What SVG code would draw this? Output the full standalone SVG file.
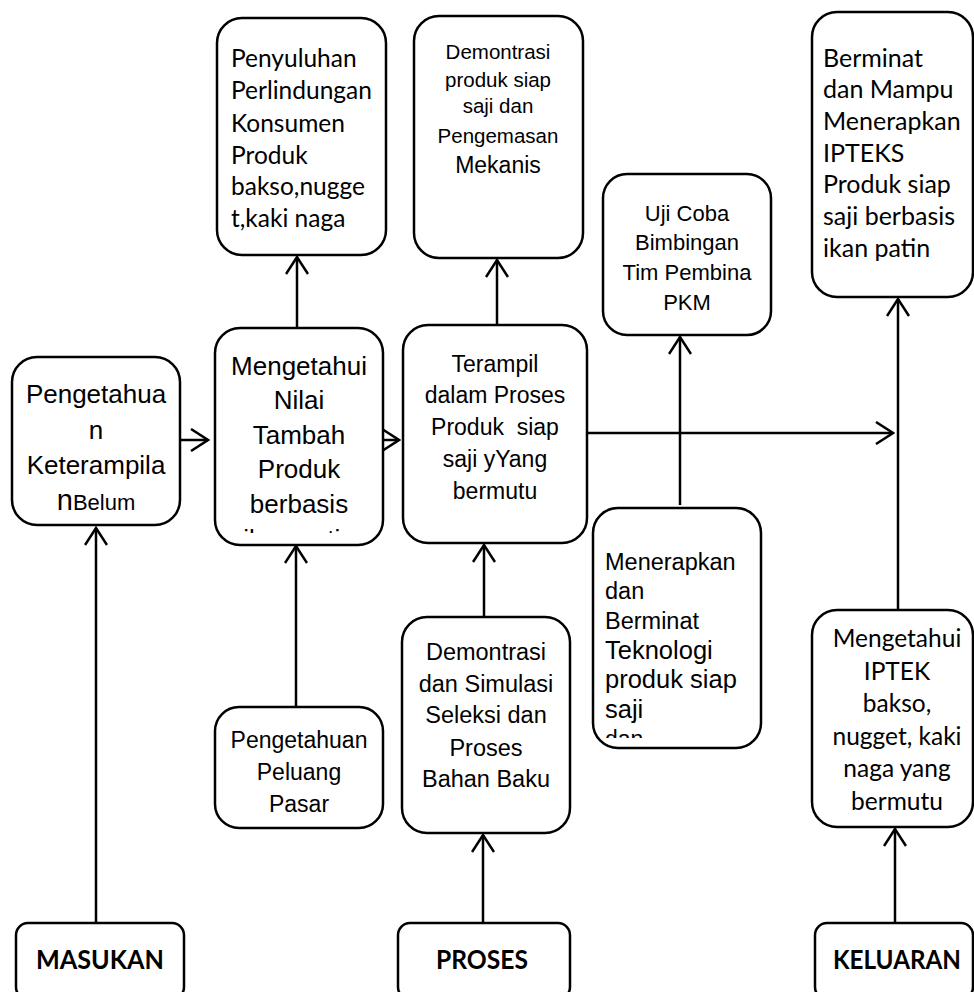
<svg xmlns="http://www.w3.org/2000/svg" width="974" height="992" viewBox="0 0 974 992">
<style>
.box{fill:#fff;stroke:#000;stroke-width:2.5}
.ar{font-family:"Liberation Sans",Arial,sans-serif;fill:#000}
.la{font-family:Lato,"Liberation Sans",sans-serif;fill:#000}
.c{text-anchor:middle}
.bl{font-family:Lato,"Liberation Sans",sans-serif;font-weight:bold;font-size:27px;text-anchor:middle;fill:#000}
.cn{fill:none;stroke:#000;stroke-width:2.5}
</style>
<defs>
<marker id="ah" viewBox="0 0 20 24" refX="18" refY="12" markerWidth="20" markerHeight="24" orient="auto" markerUnits="userSpaceOnUse">
<path d="M1,1 L18,12 L1,23" fill="none" stroke="#000" stroke-width="2.5"/>
</marker>
<clipPath id="clipMN"><rect x="215" y="328" width="168" height="205"/></clipPath>
<clipPath id="clipMT"><rect x="593" y="508" width="168" height="230"/></clipPath>
</defs>

<g id="connectors">
<path class="cn" d="M96,923 V528" marker-end="url(#ah)"/>
<path class="cn" d="M483,923 V835" marker-end="url(#ah)"/>
<path class="cn" d="M895,923 V829" marker-end="url(#ah)"/>
<path class="cn" d="M296,707 V546" marker-end="url(#ah)"/>
<path class="cn" d="M484,617 V545" marker-end="url(#ah)"/>
<path class="cn" d="M680,505 V337" marker-end="url(#ah)"/>
<path class="cn" d="M898,610 V299" marker-end="url(#ah)"/>
<path class="cn" d="M297,328 V257" marker-end="url(#ah)"/>
<path class="cn" d="M497,325 V260" marker-end="url(#ah)"/>
<path class="cn" d="M180,440 H208" marker-end="url(#ah)"/>
<path class="cn" d="M383,440 H399" marker-end="url(#ah)"/>
<path class="cn" d="M587,433 H893" marker-end="url(#ah)"/>
</g>

<g id="penyuluhan">
<rect class="box" x="217" y="18" width="169" height="237" rx="25"/>
<text class="la" font-size="24.5" x="231"><tspan x="231" y="67">Penyuluhan</tspan><tspan x="231" y="99">Perlindungan</tspan><tspan x="231" y="132">Konsumen</tspan><tspan x="231" y="164">Produk</tspan><tspan x="231" y="195">bakso,nugge</tspan><tspan x="231" y="227">t,kaki naga</tspan></text>
</g>

<g id="demontrasi-produk">
<rect class="box" x="414" y="16" width="169" height="242" rx="25"/>
<text class="ar c" font-size="20.5"><tspan x="498" y="59">Demontrasi</tspan><tspan x="498" y="87">produk siap</tspan><tspan x="498" y="113">saji dan</tspan><tspan x="498" y="143">Pengemasan</tspan></text>
<text class="ar c" font-size="23" x="498" y="173">Mekanis</text>
</g>

<g id="uji-coba">
<rect class="box" x="603" y="174" width="168" height="161" rx="24"/>
<text class="ar c" font-size="22"><tspan x="687" y="221">Uji Coba</tspan><tspan x="687" y="250">Bimbingan</tspan><tspan x="687" y="280">Tim Pembina</tspan><tspan x="687" y="310">PKM</tspan></text>
</g>

<g id="berminat">
<rect class="box" x="812" y="12" width="161" height="285" rx="25"/>
<text class="la" font-size="25"><tspan x="823" y="67">Berminat</tspan><tspan x="823" y="98">dan Mampu</tspan><tspan x="823" y="130">Menerapkan</tspan><tspan x="823" y="162">IPTEKS</tspan><tspan x="823" y="193">Produk siap</tspan><tspan x="823" y="225">saji berbasis</tspan><tspan x="823" y="257">ikan patin</tspan></text>
</g>

<g id="pengetahuan">
<rect class="box" x="12" y="357" width="168" height="168" rx="25"/>
<text class="ar c" font-size="26"><tspan x="96" y="403">Pengetahua</tspan><tspan x="96" y="439">n</tspan><tspan x="96" y="474">Keterampila</tspan></text>
<text class="ar c" y="510" x="96"><tspan font-size="29">n</tspan><tspan font-size="22">Belum</tspan></text>
</g>

<g id="mengetahui-nilai">
<rect class="box" x="215" y="328" width="168" height="217" rx="25"/>
<text class="ar c" font-size="26" clip-path="url(#clipMN)"><tspan x="299" y="375">Mengetahui</tspan><tspan x="299" y="409">Nilai</tspan><tspan x="299" y="444">Tambah</tspan><tspan x="299" y="478">Produk</tspan><tspan x="299" y="513">berbasis</tspan><tspan x="299" y="548">ikan patin</tspan></text>
</g>

<g id="terampil">
<rect class="box" x="403" y="325" width="184" height="218" rx="25"/>
<text class="ar c" font-size="23"><tspan x="495" y="372">Terampil</tspan><tspan x="495" y="403">dalam Proses</tspan><tspan x="495" y="435" xml:space="preserve">Produk  siap</tspan><tspan x="495" y="467">saji yYang</tspan><tspan x="495" y="499">bermutu</tspan></text>
</g>

<g id="menerapkan">
<rect class="box" x="593" y="508" width="168" height="240" rx="25"/>
<g clip-path="url(#clipMT)">
<text class="ar" font-size="23.5"><tspan x="605" y="570">Menerapkan</tspan><tspan x="605" y="599">dan</tspan><tspan x="605" y="629">Berminat</tspan></text>
<text class="ar" font-size="25.5"><tspan x="605" y="659">Teknologi</tspan><tspan x="605" y="688">produk siap</tspan><tspan x="605" y="718">saji</tspan></text>
<text class="ar" font-size="23" x="605" y="747">dan</text>
</g>
</g>

<g id="mengetahui-iptek">
<rect class="box" x="812" y="610" width="161" height="217" rx="25"/>
<text class="la c" font-size="24.5"><tspan x="897" y="647">Mengetahui</tspan><tspan x="897" y="680">IPTEK</tspan><tspan x="897" y="712">bakso,</tspan><tspan x="897" y="745">nugget, kaki</tspan><tspan x="897" y="777">naga yang</tspan><tspan x="897" y="810">bermutu</tspan></text>
</g>

<g id="peluang-pasar">
<rect class="box" x="215" y="707" width="168" height="121" rx="24"/>
<text class="ar c" font-size="23"><tspan x="299" y="748">Pengetahuan</tspan><tspan x="299" y="780">Peluang</tspan><tspan x="299" y="812">Pasar</tspan></text>
</g>

<g id="demontrasi-simulasi">
<rect class="box" x="402" y="617" width="168" height="216" rx="25"/>
<text class="ar c" font-size="23.5"><tspan x="486" y="660">Demontrasi</tspan><tspan x="486" y="692">dan Simulasi</tspan><tspan x="486" y="723">Seleksi dan</tspan><tspan x="486" y="756">Proses</tspan><tspan x="486" y="787">Bahan Baku</tspan></text>
</g>

<g id="masukan">
<rect class="box" x="16" y="923" width="168" height="76" rx="12"/>
<text class="bl" x="100" y="969" textLength="128" lengthAdjust="spacingAndGlyphs">MASUKAN</text>
</g>

<g id="proses">
<rect class="box" x="398" y="923" width="172" height="76" rx="12"/>
<text class="bl" x="482" y="969" textLength="92" lengthAdjust="spacingAndGlyphs">PROSES</text>
</g>

<g id="keluaran">
<rect class="box" x="815" y="923" width="158" height="76" rx="12"/>
<text class="bl" x="897" y="969" textLength="128" lengthAdjust="spacingAndGlyphs">KELUARAN</text>
</g>
</svg>
